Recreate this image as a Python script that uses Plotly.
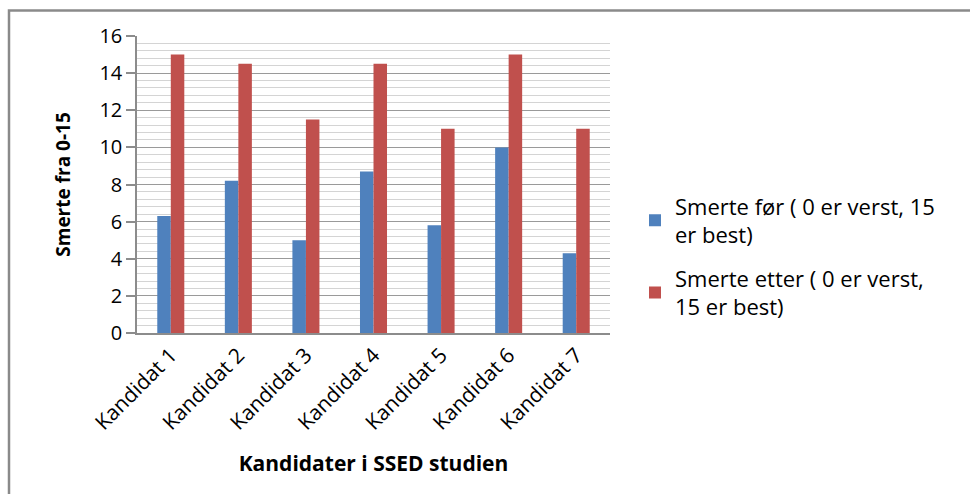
import plotly.graph_objects as go

# Pain scores per candidate, before and after treatment
kandidater = ["Kandidat 1", "Kandidat 2", "Kandidat 3", "Kandidat 4",
              "Kandidat 5", "Kandidat 6", "Kandidat 7"]
smerte_for = [6.3, 8.2, 5.0, 8.7, 5.8, 10.0, 4.3]
smerte_etter = [15, 14.5, 11.5, 14.5, 11, 15, 11]

navn_for = "Smerte før ( 0 er verst, 15<br>er best)"
navn_etter = "Smerte etter ( 0 er verst,<br>15 er best)"

FONT = "Open Sans"

fig = go.Figure()
fig.add_trace(go.Bar(x=kandidater, y=smerte_for, name=navn_for, legendgroup="for",
                     marker=dict(color="#4f81bd", line=dict(width=0))))
fig.add_trace(go.Bar(x=kandidater, y=smerte_etter, name=navn_etter, legendgroup="etter",
                     marker=dict(color="#c0504d", line=dict(width=0))))

L, R, T, B = 137, 360, 35.5, 161
W, H = 970, 494
pw, ph = W - L - R, H - T - B

fig.update_layout(
    width=W, height=H,
    margin=dict(l=L, r=R, t=T, b=B, pad=0),
    paper_bgcolor="white", plot_bgcolor="white",
    barmode="group", bargap=0.6, bargroupgap=0,
    font=dict(family=FONT, size=20, color="#000000"),
    legend=dict(x=(635 - L) / pw, y=(H - B - 185) / ph, xanchor="left", yanchor="top",
                font=dict(family=FONT, size=22), tracegroupgap=12,
                itemwidth=30, bgcolor="rgba(0,0,0,0)"),
    xaxis=dict(showline=True, linecolor="#8c8c8c", linewidth=1.5, ticks="",
               tickangle=-45, showgrid=False,
               tickfont=dict(family=FONT, size=21),
               title=dict(text="<b>Kandidater i SSED studien</b>", standoff=22,
                          font=dict(family=FONT, size=21))),
    yaxis=dict(range=[0, 16], dtick=2, showline=True, linecolor="#8c8c8c", linewidth=1.5,
               ticks="outside", ticklen=9, tickcolor="#8c8c8c", tickwidth=1.5,
               showgrid=True, gridcolor="#9a9a9a", gridwidth=1, zeroline=False,
               minor=dict(dtick=0.4, showgrid=True, gridcolor="#d4d4d4", gridwidth=1, ticks=""),
               tickfont=dict(family=FONT, size=20),
               title=dict(text="<b>Smerte fra 0-15</b>", standoff=24,
                          font=dict(family=FONT, size=19))),
    shapes=[dict(type="rect", xref="paper", yref="paper",
                 x0=(9 - L) / pw, x1=(W + 20 - L) / pw,
                 y0=(H - B - (H + 20)) / ph, y1=(H - B - 10) / ph,
                 line=dict(color="#8a8a8a", width=2.5), fillcolor="rgba(0,0,0,0)",
                 layer="below")],
)

fig.write_html("out.html")
